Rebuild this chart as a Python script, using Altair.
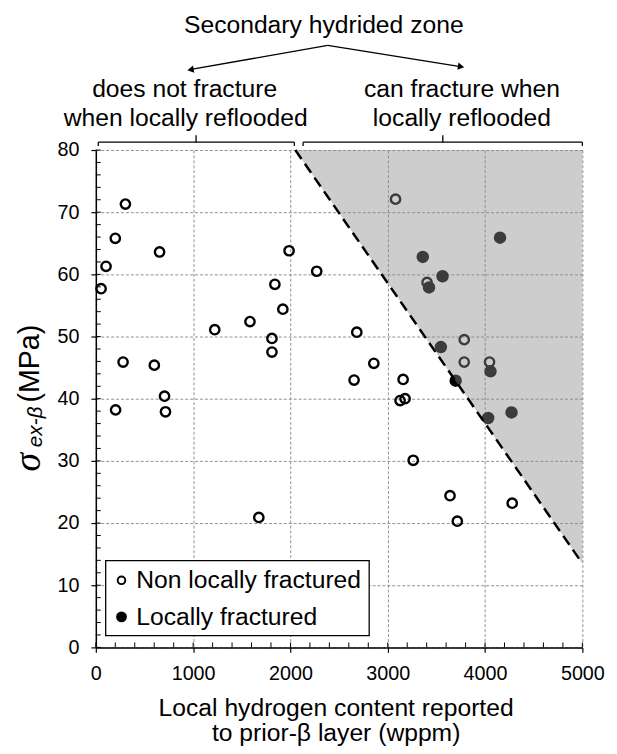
import altair as alt
import pandas as pd

# ---------------- data ----------------
open_x = [304, 200, 655, 105, 54, 1986, 2270, 1840, 1922, 1584, 1222, 1810, 1810, 280, 601, 706, 203, 716,
          3080, 3404, 2682, 3786, 3786, 4046, 2857, 2654, 3158, 3127, 3178, 3262, 3640, 4279, 3715, 1675]
open_y = [71.3, 65.8, 63.6, 61.3, 57.7, 63.8, 60.5, 58.4, 54.4, 52.4, 51.1, 49.7, 47.5, 45.9, 45.4, 40.4, 38.2, 37.9,
          72.1, 58.7, 50.7, 49.5, 45.9, 45.9, 45.7, 43.0, 43.1, 39.7, 40.0, 30.1, 24.4, 23.2, 20.3, 20.9]
frac_x = [4154, 3360, 3563, 3424, 3546, 4056, 3698, 4032, 4272]
frac_y = [65.9, 62.8, 59.7, 57.9, 48.3, 44.4, 42.9, 36.9, 37.8]
boundary_x = [2050, 5000]
boundary_y = [80, 13.5]
boundary_top = [80, 80]
x_major = [0, 1000, 2000, 3000, 4000, 5000]
y_major = [0, 10, 20, 30, 40, 50, 60, 70, 80]
x_minor = [0, 200, 400, 600, 800, 1000, 1200, 1400, 1600, 1800, 2000, 2200, 2400, 2600, 2800, 3000,
           3200, 3400, 3600, 3800, 4000, 4200, 4400, 4600, 4800, 5000]
y_minor = [0, 2, 4, 6, 8, 10, 12, 14, 16, 18, 20, 22, 24, 26, 28, 30, 32, 34, 36, 38, 40,
           42, 44, 46, 48, 50, 52, 54, 56, 58, 60, 62, 64, 66, 68, 70, 72, 74, 76, 78, 80]
legend_labels = ["Non locally fractured", "Locally fractured"]
zone_title = ["Secondary hydrided zone"]
left_label = ["does not fracture", "when locally reflooded"]
right_label = ["can fracture when", "locally reflooded"]
bracket_start = [25, 2130]
bracket_end = [2040, 5000]
bracket_mid = [1030, 3566]
x_title = ["Local hydrogen content reported", "to prior-\u03b2 layer (wppm)"]
y_title = ["\u03c3", "ex-\u03b2", "(MPa)"]

# ---------------- chart ----------------
W, H = 493, 504
FONT = "Liberation Sans"
xs = alt.Scale(domain=[0, 5000], nice=False, zero=False)
ys = alt.Scale(domain=[0, 80], nice=False, zero=False)

open_df = pd.DataFrame({"x": open_x, "y": open_y})
frac_df = pd.DataFrame({"x": frac_x, "y": frac_y})
bound_df = pd.DataFrame({"x": boundary_x, "y": boundary_y, "top": boundary_top})
xmin_df = pd.DataFrame({"x": x_minor})
ymin_df = pd.DataFrame({"y": y_minor})
br_df = pd.DataFrame({"start": bracket_start, "end": bracket_end, "mid": bracket_mid})
one = pd.DataFrame({"k": [0]})

x_axis = alt.Axis(values=x_major, format="d", grid=True, gridColor="#8f8f8f", gridDash=[3, 2], gridWidth=1,
                  domainColor="black", domainWidth=1.5, tickColor="black", tickWidth=1.2, tickSize=5,
                  labelFont=FONT, labelFontSize=20, labelColor="black", labelPadding=12,
                  labelFlush=False, labelOverlap=False, orient="bottom",
                  title=x_title, titleFont=FONT, titleFontSize=25, titleFontWeight="normal",
                  titleColor="black", titleLineHeight=25, titleY=69, titleX=243,
                  titleAlign="center", titleBaseline="alphabetic")
y_axis = alt.Axis(values=y_major, format="d", grid=True, gridColor="#8f8f8f", gridDash=[3, 2], gridWidth=1,
                  domainColor="black", domainWidth=1.5, tickColor="black", tickWidth=1.2, tickSize=5,
                  labelFont=FONT, labelFontSize=20, labelColor="black", labelPadding=12,
                  labelFlush=False, labelOverlap=False, orient="left", title=None)

open_pts = alt.Chart(open_df).mark_point(shape="circle", filled=False, stroke="black",
                                         strokeWidth=2.4, size=90, opacity=1).encode(
    x=alt.X("x:Q", scale=xs, axis=x_axis),
    y=alt.Y("y:Q", scale=ys, axis=y_axis))

frac_pts = alt.Chart(frac_df).mark_circle(color="black", size=160, opacity=1).encode(
    x=alt.X("x:Q", scale=xs, axis=None),
    y=alt.Y("y:Q", scale=ys, axis=None))

area = alt.Chart(bound_df).mark_area(color="#8c8c8c", opacity=0.43).encode(
    x=alt.X("x:Q", scale=xs, axis=None),
    y=alt.Y("y:Q", scale=ys, axis=None),
    y2="top:Q")

bline = alt.Chart(bound_df).mark_line(color="black", strokeWidth=2.5, strokeDash=[11, 6]).encode(
    x=alt.X("x:Q", scale=xs, axis=None),
    y=alt.Y("y:Q", scale=ys, axis=None))

xminor = alt.Chart(xmin_df).mark_rule(color="black", strokeWidth=1).encode(
    x=alt.X("x:Q", scale=xs, axis=None), y=alt.value(H - 5), y2=alt.value(H))
yminor = alt.Chart(ymin_df).mark_rule(color="black", strokeWidth=1).encode(
    y=alt.Y("y:Q", scale=ys, axis=None), x=alt.value(0), x2=alt.value(5))

br_h = alt.Chart(br_df).mark_rule(color="black", strokeWidth=1.3).encode(
    x=alt.X("start:Q", scale=xs, axis=None), x2="end:Q", y=alt.value(-8))
br_s = alt.Chart(br_df).mark_rule(color="black", strokeWidth=1.3).encode(
    x=alt.X("start:Q", scale=xs, axis=None), y=alt.value(-8), y2=alt.value(-4))
br_e = alt.Chart(br_df).mark_rule(color="black", strokeWidth=1.3).encode(
    x=alt.X("end:Q", scale=xs, axis=None), y=alt.value(-8), y2=alt.value(-4))
br_m = alt.Chart(br_df).mark_rule(color="black", strokeWidth=1.3).encode(
    x=alt.X("mid:Q", scale=xs, axis=None), y=alt.value(-15), y2=alt.value(-8))


def text_layer(label, x, y, size, font=FONT, **kw):
    return alt.Chart(pd.DataFrame({"label": [label]})).mark_text(
        font=font, fontSize=size, color="black", **kw).encode(
        x=alt.value(x), y=alt.value(y), text="label:N")


arrow_l = alt.Chart(one).mark_rule(color="black", strokeWidth=1.3).encode(
    x=alt.value(235), y=alt.value(-106), x2=alt.value(95), y2=alt.value(-81.4))
arrow_r = alt.Chart(one).mark_rule(color="black", strokeWidth=1.3).encode(
    x=alt.value(235), y=alt.value(-106), x2=alt.value(371), y2=alt.value(-84.3))
head_l = alt.Chart(one).mark_point(shape="triangle", filled=True, color="black", size=55,
                                   opacity=1, angle=260).encode(x=alt.value(97), y=alt.value(-81.7))
head_r = alt.Chart(one).mark_point(shape="triangle", filled=True, color="black", size=55,
                                   opacity=1, angle=99).encode(x=alt.value(369), y=alt.value(-84.6))

legend_box = alt.Chart(one).mark_rect(fill="white", stroke="black", strokeWidth=1.3).encode(
    x=alt.value(10), x2=alt.value(277), y=alt.value(416), y2=alt.value(492))
leg_open = alt.Chart(one).mark_point(shape="circle", filled=False, stroke="black", strokeWidth=2,
                                     size=60, opacity=1).encode(x=alt.value(26), y=alt.value(436))
leg_fill = alt.Chart(one).mark_circle(color="black", size=120, opacity=1).encode(
    x=alt.value(26), y=alt.value(473))

texts = [
    text_layer(zone_title[0], 231, -127, 25, align="center", baseline="middle"),
    text_layer(left_label[0], 90, -62, 25, align="center", baseline="middle"),
    text_layer(left_label[1], 91, -32, 25, align="center", baseline="middle"),
    text_layer(right_label[0], 371, -62, 25, align="center", baseline="middle"),
    text_layer(right_label[1], 371, -32, 25, align="center", baseline="middle"),
    text_layer(legend_labels[0], 41, 436, 25, align="left", baseline="middle"),
    text_layer(legend_labels[1], 41, 473, 25, align="left", baseline="middle"),
    text_layer(y_title[0], -57, 316.5, 38, font="Liberation Serif", fontStyle="italic",
               angle=270, align="center", baseline="alphabetic"),
    text_layer(y_title[1], -55, 280.5, 21, fontStyle="italic",
               angle=270, align="center", baseline="alphabetic"),
    text_layer(y_title[2], -58, 216.5, 29, angle=270, align="center", baseline="alphabetic"),
]

chart = alt.layer(
    open_pts, frac_pts, area, bline, xminor, yminor, br_h, br_s, br_e, br_m,
    arrow_l, arrow_r, head_l, head_r, legend_box, leg_open, leg_fill, *texts
).resolve_axis(
    x="independent", y="independent"
).properties(
    width=W, height=H,
    padding={"left": 89, "top": 139, "right": 27, "bottom": 95},
    autosize=alt.AutoSizeParams(type="none"),
).configure_view(strokeWidth=0)

chart.save("out.html", embed_options={"renderer": "svg", "actions": False})
